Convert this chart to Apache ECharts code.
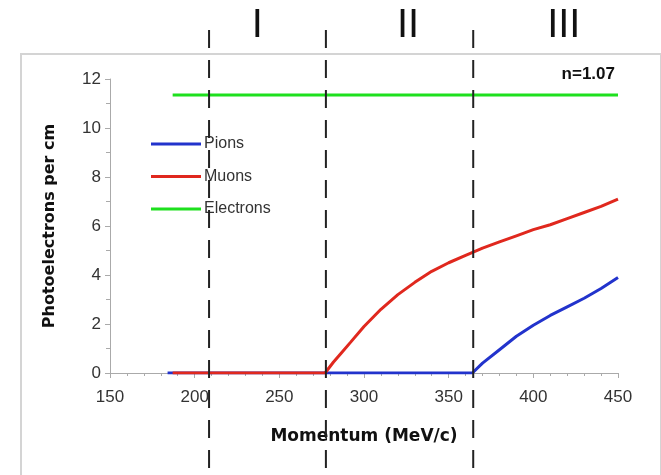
<!DOCTYPE html>
<html>
<head>
<meta charset="utf-8">
<script src="https://cdn.jsdelivr.net/npm/echarts@6/dist/echarts.min.js"></script>
<style>
	html, body { margin: 0; padding: 0; background: #fff; }
	#chart { width: 661px; height: 475px; }
</style>
</head>
<body>
<div id="chart"></div>
<script>
// momentum (MeV/c) and photoelectrons per cm
const pionX = [184, 364, 370, 380, 390, 400, 410, 420, 430, 440, 450];
const pionY = [0, 0, 0.4, 0.95, 1.5, 1.95, 2.35, 2.7, 3.05, 3.45, 3.9];
const muonX = [187, 277, 282, 287, 292, 300, 310, 320, 330, 340, 350, 360, 370, 380, 390, 400, 410, 420, 430, 440, 450];
const muonY = [0, 0, 0.45, 0.85, 1.25, 1.9, 2.6, 3.2, 3.7, 4.15, 4.5, 4.8, 5.1, 5.35, 5.6, 5.85, 6.05, 6.3, 6.55, 6.8, 7.1];
const electronX = [187, 450];
const electronY = [11.35, 11.35];

const boundaries = [208.5, 277.5, 364.5];
const regionNames = ['I', 'II', 'III'];
const regionX = [237, 326, 418];
const indexLabel = 'n=1.07';

const font = 'Liberation Sans, Arial, sans-serif';
const pairs = (xs, ys) => xs.map((x, i) => [x, ys[i]]);

const chart = echarts.init(document.getElementById('chart'), null, { renderer: 'canvas' });

const option = {
	animation: false,
	backgroundColor: '#fff',
	textStyle: { fontFamily: font },
	title: {
		text: indexLabel,
		right: 41,
		top: 61,
		textStyle: { fontSize: 17, fontWeight: 'bold', color: '#111', fontFamily: font },
	},
	legend: {
		orient: 'vertical',
		left: 146,
		top: 130,
		icon: 'rect',
		itemWidth: 50,
		itemHeight: 3,
		itemGap: 14.5,
		textStyle: { fontSize: 16, color: '#333', lineHeight: 18, padding: [0, 0, 0, -2] },
		data: ['Pions', 'Muons', 'Electrons'],
	},
	grid: { left: 110, right: 43, top: 79, bottom: 102 },
	xAxis: {
		type: 'value',
		min: 150,
		max: 450,
		interval: 50,
		name: 'Momentum (MeV/c)',
		nameLocation: 'middle',
		nameGap: 55,
		nameTextStyle: { fontSize: 17, fontWeight: 'bold', color: '#111', fontFamily: 'DejaVu Sans' },
		axisLine: { lineStyle: { color: '#aaa', width: 1 } },
		axisTick: { length: 5, lineStyle: { color: '#aaa' } },
		minorTick: { show: true, splitNumber: 5, length: 3, lineStyle: { color: '#aaa' } },
		splitLine: { show: false },
		axisLabel: { fontSize: 17, color: '#333', margin: 16 },
	},
	yAxis: {
		type: 'value',
		min: 0,
		max: 12,
		interval: 2,
		name: 'Photoelectrons per cm',
		nameLocation: 'middle',
		nameGap: 52,
		nameTextStyle: { fontSize: 16, fontWeight: 'bold', color: '#111', fontFamily: 'DejaVu Sans' },
		axisLine: { show: true, lineStyle: { color: '#aaa', width: 1 } },
		axisTick: { show: true, length: 5, lineStyle: { color: '#aaa' } },
		minorTick: { show: true, splitNumber: 2, length: 4, lineStyle: { color: '#aaa' } },
		splitLine: { show: false },
		axisLabel: { fontSize: 17, color: '#333', margin: 9 },
	},
	series: [
		{
			name: 'Pions', type: 'line', showSymbol: false, smooth: false,
			lineStyle: { color: '#2233cc', width: 3 }, itemStyle: { color: '#2233cc' },
			data: pairs(pionX, pionY),
		},
		{
			name: 'Muons', type: 'line', showSymbol: false, smooth: false,
			lineStyle: { color: '#e0281e', width: 3 }, itemStyle: { color: '#e0281e' },
			data: pairs(muonX, muonY),
		},
		{
			name: 'Electrons', type: 'line', showSymbol: false, smooth: false,
			lineStyle: { color: '#1ee01e', width: 3 }, itemStyle: { color: '#1ee01e' },
			data: pairs(electronX, electronY),
		},
	],
};

chart.setOption(option);

// frame, dashed region boundaries and region numerals, placed through the x scale
const graphic = [
	{
		type: 'rect', silent: true, z: 0,
		shape: { x: 21, y: 54, width: 640, height: 440 },
		style: { fill: null, stroke: '#d4d4d4', lineWidth: 2 },
	},
];
boundaries.forEach((b) => {
	const px = chart.convertToPixel({ xAxisIndex: 0 }, b);
	graphic.push({
		type: 'line', silent: true, z: 100,
		shape: { x1: px, y1: 30, x2: px, y2: 475 },
		style: { stroke: '#222', lineWidth: 2, lineDash: [18, 12] },
	});
});
regionNames.forEach((name, i) => {
	const px = chart.convertToPixel({ xAxisIndex: 0 }, regionX[i]);
	graphic.push({
		type: 'text', silent: true, z: 100,
		x: px, y: 26,
		style: { text: name, fontSize: 40, fontFamily: font, fill: '#111', align: 'center', verticalAlign: 'middle' },
	});
});
chart.setOption({ graphic });
</script>
</body>
</html>
